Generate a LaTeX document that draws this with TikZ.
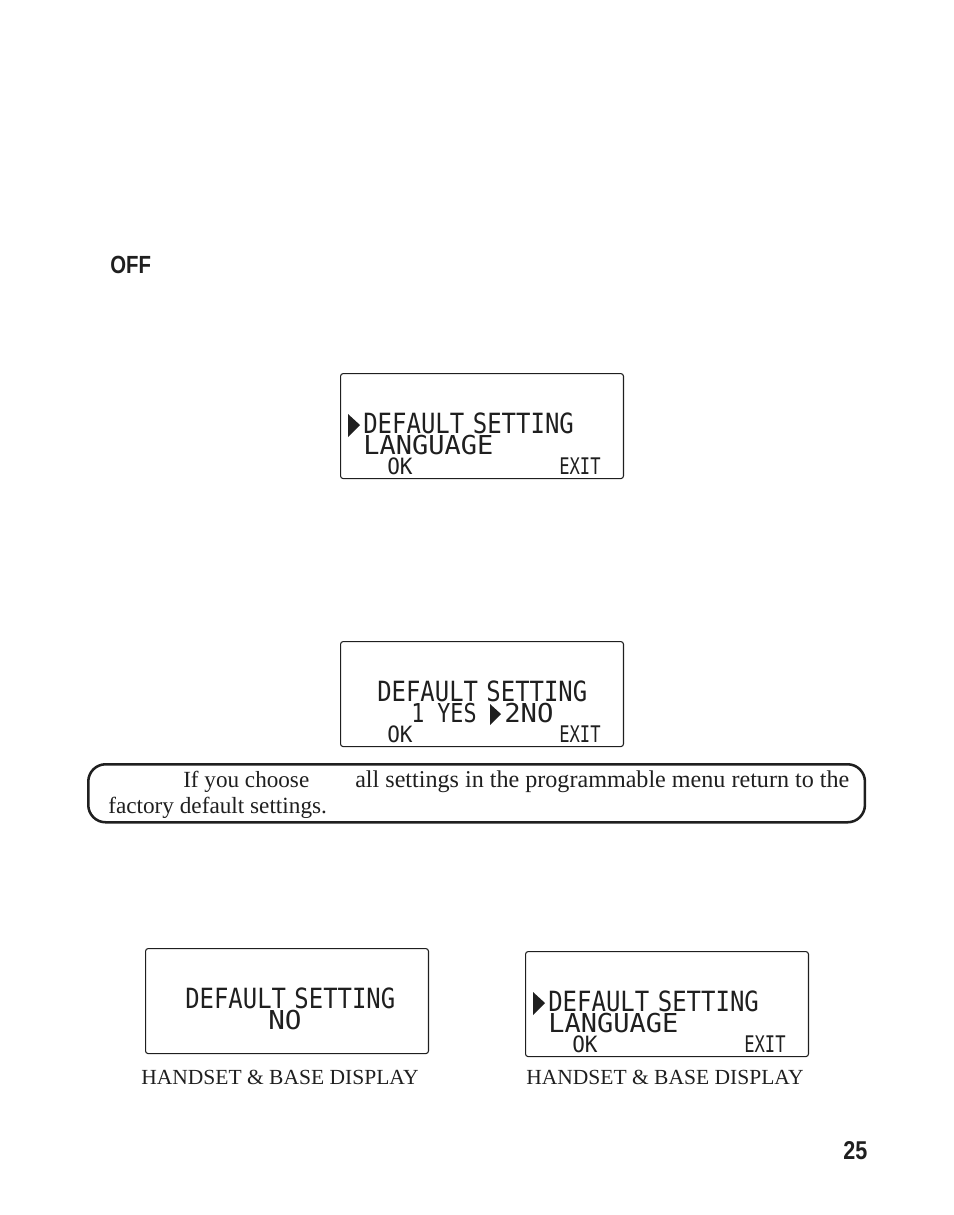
\documentclass[tikz,border=0pt]{standalone}
\usepackage{fontspec}
\setmainfont{Liberation Serif}
\setsansfont{Liberation Sans}
\setmonofont{DejaVu Sans Mono}
\usetikzlibrary{positioning, calc}
\definecolor{inkblack}{gray}{.12}

% one line of the display: width, height, text
\newcommand{\lcdtext}[3]{\resizebox{#1}{#2}{\ttfamily\smash[b]{#3}}}
\newcommand{\printtext}[2]{\resizebox{#1}{!}{\strut #2}}
\newcommand{\lcdhead}{DEFAULT\kern-0.25em\ SETTING}

\tikzset{
    display/.style={draw=inkblack, line width=0.8pt, rounded corners=2pt, minimum width=212.2pt, minimum height=78.8pt, inner sep=0pt, anchor=north west},
    lcd/.style={anchor=south west, inner sep=0pt, text=inkblack},
    lcdmark/.style={fill=inkblack, draw=none},
    print/.style={anchor=base west, inner sep=0pt, text=inkblack},
    notebox/.style={draw=inkblack, line width=1.9pt, rounded corners=13pt, minimum width=582.5pt, minimum height=43.5pt, inner sep=0pt, anchor=north west}
}

\usepackage{amsmath}

\begin{document}
\begin{tikzpicture}[x=0.75pt, y=-0.75pt]
\useasboundingbox (0,0) rectangle (954,1215);

\node[print, font=\sffamily\bfseries] (offlabel) at (110,273) {\resizebox{30.5pt}{13pt}{OFF}};

% first display
\node[display] (dispmenu) at (340,373) {};
\begin{scope}[shift={(340,373)}]
\fill[lcdmark] (8,41) -- (20,52) -- (8,64) -- cycle;
\node[lcd] (menuone) at (23,61) {\lcdtext{158pt}{15.5pt}{\lcdhead}};
\node[lcd] (menutwo) at (23,82) {\lcdtext{97.5pt}{14.5pt}{LANGUAGE}};
\node[lcd] (menuok) at (47,102) {\lcdtext{19pt}{12.5pt}{OK}};
\node[lcd] (menuexit) at (219,102) {\lcdtext{31pt}{12.5pt}{EXIT}};
\end{scope}

% second display
\node[display] (dispask) at (340,641) {};
\begin{scope}[shift={(340,641)}]
\node[lcd] (askone) at (37,61) {\lcdtext{157.5pt}{15.5pt}{\lcdhead}};
\node[lcd] (askyes) at (71,82) {\lcdtext{49pt}{14.5pt}{1 YES}};
\fill[lcdmark] (150,63) -- (161,73) -- (150,84) -- cycle;
\node[lcd] (askno) at (164,82) {\lcdtext{37pt}{14.5pt}{2NO}};
\node[lcd] (askok) at (47,102) {\lcdtext{19pt}{12.5pt}{OK}};
\node[lcd] (askexit) at (219,102) {\lcdtext{31pt}{12.5pt}{EXIT}};
\end{scope}

% note
\node[notebox] (notebox) at (87,763) {};
\node[print] (noteone) at (183,787) {\printtext{94.5pt}{If you choose}};
\node[print] (notetwo) at (355,787) {\printtext{370.5pt}{all settings in the programmable menu return to the}};
\node[print] (notethree) at (108,813) {\printtext{164pt}{factory default settings.}};

% third display
\node[display] (dispno) at (145,948) {};
\begin{scope}[shift={(145,948)}]
\node[lcd] (noone) at (40,61) {\lcdtext{157.5pt}{15.5pt}{\lcdhead}};
\node[lcd] (notwo) at (123,82) {\lcdtext{25pt}{14.5pt}{NO}};
\end{scope}
\node[print] (labelleft) at (141,1084) {\printtext{208pt}{HANDSET \& BASE DISPLAY}};

% fourth display
\node[display] (dispback) at (525,951) {};
\begin{scope}[shift={(525,951)}]
\fill[lcdmark] (8,41) -- (20,52) -- (8,64) -- cycle;
\node[lcd] (backone) at (23,61) {\lcdtext{158pt}{15.5pt}{\lcdhead}};
\node[lcd] (backtwo) at (23,82) {\lcdtext{97.5pt}{14.5pt}{LANGUAGE}};
\node[lcd] (backok) at (47,102) {\lcdtext{19pt}{12.5pt}{OK}};
\node[lcd] (backexit) at (219,102) {\lcdtext{31pt}{12.5pt}{EXIT}};
\end{scope}
\node[print] (labelright) at (526,1084) {\printtext{208pt}{HANDSET \& BASE DISPLAY}};

\node[print, font=\sffamily\bfseries] (pagenum) at (843,1159) {\resizebox{18pt}{13.5pt}{25}};
\end{tikzpicture}
\end{document}
